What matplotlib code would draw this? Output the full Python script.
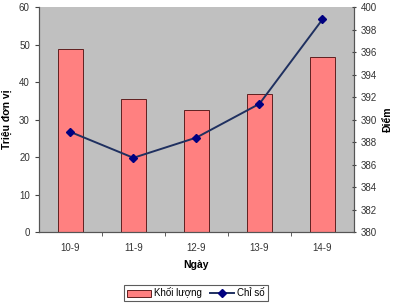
import matplotlib
matplotlib.use("Agg")
import matplotlib.pyplot as plt
import numpy as np

categories = ["10-9", "11-9", "12-9", "13-9", "14-9"]
khoi_luong = [48.8, 35.6, 32.5, 36.7, 46.6]
chi_so = [388.9, 386.6, 388.4, 391.4, 398.9]

plt.rcParams['font.family'] = ['Liberation Sans', 'DejaVu Sans']

fig = plt.figure(figsize=(4.05, 3.05), dpi=100)
ax = fig.add_axes([0.096, 0.239, 0.778, 0.738])
ax.set_facecolor('#C0C0C0')
x = np.arange(len(categories))
ax.bar(x, khoi_luong, width=0.39, color='#FF8080', edgecolor='#602020', linewidth=0.7,
       label='Khối lượng', zorder=2)
ax.set_xlim(-0.5, len(categories) - 0.5)
ax.set_ylim(0, 60)
ax.set_yticks(range(0, 61, 10))
ax.set_xticks(x)
ax.set_xticklabels(categories)
ax.set_xticks(np.arange(0.5, len(categories) - 0.5, 1), minor=True)
ax.tick_params(axis='x', which='major', length=0, pad=8, labelsize=7, colors='#333333')
ax.tick_params(axis='x', which='minor', length=3, direction='out', color='#444444')
ax.tick_params(axis='y', length=3, direction='out', labelsize=7, color='#444444', labelcolor='#333333')
ax.set_ylabel('Triệu đơn vị', fontsize=7.5, fontweight='bold', labelpad=5)
ax.set_xlabel('Ngày', fontsize=7.5, fontweight='bold', labelpad=5)
ax.spines['top'].set_visible(False)
for s in ['left', 'bottom', 'right']:
    ax.spines[s].set_color('#555555')
    ax.spines[s].set_linewidth(0.8)

ax2 = ax.twinx()
ax2.plot(x, chi_so, color='#1F3060', linewidth=1.4, marker='D', markersize=4.5,
         markerfacecolor='#000080', markeredgecolor='#000080', label='Chỉ số', zorder=3)
ax2.set_ylim(380, 400)
ax2.set_yticks(range(380, 401, 2))
ax2.tick_params(axis='y', length=3, direction='inout', labelsize=7, color='#444444', labelcolor='#333333')
ax2.set_ylabel('Điểm', fontsize=7.5, fontweight='bold', rotation=90, labelpad=4)
ax2.spines['top'].set_visible(False)
for s in ['left', 'bottom', 'right']:
    ax2.spines[s].set_color('#555555')
    ax2.spines[s].set_linewidth(0.8)

h1, l1 = ax.get_legend_handles_labels()
h2, l2 = ax2.get_legend_handles_labels()
leg = fig.legend(h1 + h2, l1 + l2, loc='center', bbox_to_anchor=(196 / 405, 1 - 293 / 305),
                 ncol=2, fontsize=7, frameon=True, fancybox=False, edgecolor='#333333',
                 handlelength=2.5, handletextpad=0.3, columnspacing=0.8, borderpad=0.3)
leg.get_frame().set_linewidth(0.8)

fig.savefig('out.png', dpi=100)
